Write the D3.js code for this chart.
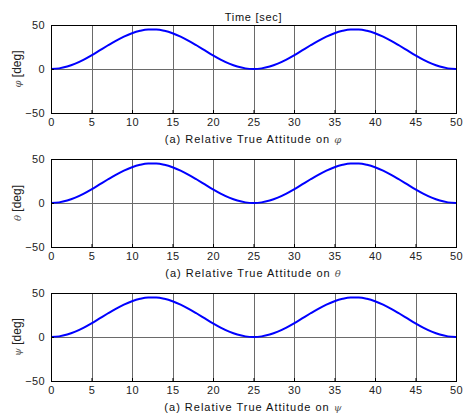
<!DOCTYPE html>
<html>
<head>
<meta charset="utf-8">
<script src="https://cdn.jsdelivr.net/npm/d3@7"></script>
<style>
  body { margin: 0; background: #fff; }
  text { font-family: "Liberation Sans", Arial, sans-serif; }
</style>
</head>
<body>
<script>
// values, one sample per second
var time = [0, 1, 2, 3, 4, 5, 6, 7, 8, 9, 10, 11, 12, 13, 14, 15, 16, 17, 18, 19, 20, 21, 22, 23, 24, 25,
  26, 27, 28, 29, 30, 31, 32, 33, 34, 35, 36, 37, 38, 39, 40, 41, 42, 43, 44, 45, 46, 47, 48, 49, 50];

var phi = [0, 0.7, 2.8, 6.1, 10.4, 15.5, 21.1, 26.7, 32.1, 36.8, 40.7, 43.4, 44.8, 44.8, 43.4, 40.7, 36.8, 32.1, 26.7, 21.1, 15.5, 10.4, 6.1, 2.8, 0.7, 0,
  0.7, 2.8, 6.1, 10.4, 15.5, 21.1, 26.7, 32.1, 36.8, 40.7, 43.4, 44.8, 44.8, 43.4, 40.7, 36.8, 32.1, 26.7, 21.1, 15.5, 10.4, 6.1, 2.8, 0.7, 0];

var theta = [0, 0.7, 2.8, 6.1, 10.4, 15.5, 21.1, 26.7, 32.1, 36.8, 40.7, 43.4, 44.8, 44.8, 43.4, 40.7, 36.8, 32.1, 26.7, 21.1, 15.5, 10.4, 6.1, 2.8, 0.7, 0,
  0.7, 2.8, 6.1, 10.4, 15.5, 21.1, 26.7, 32.1, 36.8, 40.7, 43.4, 44.8, 44.8, 43.4, 40.7, 36.8, 32.1, 26.7, 21.1, 15.5, 10.4, 6.1, 2.8, 0.7, 0];

var psi = [0, 0.7, 2.8, 6.1, 10.4, 15.5, 21.1, 26.7, 32.1, 36.8, 40.7, 43.4, 44.8, 44.8, 43.4, 40.7, 36.8, 32.1, 26.7, 21.1, 15.5, 10.4, 6.1, 2.8, 0.7, 0,
  0.7, 2.8, 6.1, 10.4, 15.5, 21.1, 26.7, 32.1, 36.8, 40.7, 43.4, 44.8, 44.8, 43.4, 40.7, 36.8, 32.1, 26.7, 21.1, 15.5, 10.4, 6.1, 2.8, 0.7, 0];

var xTicks = [0, 5, 10, 15, 20, 25, 30, 35, 40, 45, 50];
var yTicks = [-50, 0, 50];
var symbols = ["\u03C6", "\u03B8", "\u03C8"];
var captions = ["(a) Relative True Attitude on ", "(a) Relative True Attitude on ", "(a) Relative True Attitude on "];
var series = [phi, theta, psi];

var svg = d3.select("body").append("svg").attr("width", 466).attr("height", 414);

var left = 51, width = 405, height = 88;
var tops = [25, 159, 293];

var x = d3.scaleLinear().domain([0, 50]).range([0, width]);
var y = d3.scaleLinear().domain([-50, 50]).range([height, 0]);

svg.append("text")
  .attr("x", left + width / 2)
  .attr("y", 21)
  .attr("text-anchor", "middle")
  .attr("font-size", 11)
  .attr("letter-spacing", 0.7)
  .attr("fill", "#111")
  .text("Time [sec]");

series.forEach(function (vals, k) {
  var g = svg.append("g").attr("transform", "translate(" + left + "," + tops[k] + ")");

  // grid
  g.append("g")
    .attr("transform", "translate(0," + height + ")")
    .call(d3.axisBottom(x).tickValues(xTicks).tickSize(-height).tickFormat(""))
    .call(function (s) {
      s.select(".domain").remove();
      s.selectAll("line").attr("stroke", "#6a6a6a").attr("shape-rendering", "crispEdges");
    });
  g.append("line")
    .attr("x1", 0).attr("x2", width)
    .attr("y1", y(0)).attr("y2", y(0))
    .attr("stroke", "#6a6a6a")
    .attr("shape-rendering", "crispEdges");

  // curve
  var line = d3.line()
    .x(function (d, i) { return x(time[i]); })
    .y(function (d) { return y(d); })
    .curve(d3.curveMonotoneX);
  g.append("path")
    .datum(vals)
    .attr("d", line)
    .attr("fill", "none")
    .attr("stroke", "#0000ff")
    .attr("stroke-width", 2);

  // axes
  var xa = g.append("g")
    .attr("transform", "translate(0," + height + ")")
    .call(d3.axisBottom(x).tickValues(xTicks).tickSizeInner(-3).tickSizeOuter(0).tickPadding(5));
  var ya = g.append("g")
    .call(d3.axisLeft(y).tickValues(yTicks).tickSizeInner(-3).tickSizeOuter(0).tickPadding(6));
  [xa, ya].forEach(function (a) {
    a.selectAll("text").attr("font-size", 11).attr("fill", "#222")
      .attr("letter-spacing", 0.4)
      .attr("font-family", "'Liberation Sans', Arial, sans-serif");
    a.select(".domain").attr("stroke", "#000");
    a.selectAll("line").attr("stroke", "#000");
  });

  g.append("rect")
    .attr("width", width).attr("height", height)
    .attr("fill", "none")
    .attr("stroke", "#000")
    .attr("shape-rendering", "crispEdges");

  // y label
  var yl = g.append("text")
    .attr("transform", "translate(-30," + y(0) + ") rotate(-90)")
    .attr("text-anchor", "middle")
    .attr("font-size", 12)
    .attr("fill", "#222");
  yl.append("tspan").attr("font-family", "'DejaVu Serif', serif").attr("font-style", "italic")
    .attr("font-size", 10).attr("fill", "#555").text(symbols[k]);
  yl.append("tspan").text("  [deg]");

  // caption
  var cap = g.append("text")
    .attr("x", width / 2)
    .attr("y", height + 30)
    .attr("text-anchor", "middle")
    .attr("font-size", 11)
    .attr("letter-spacing", 1)
    .attr("fill", "#111");
  cap.append("tspan").text(captions[k]);
  cap.append("tspan").attr("font-family", "'DejaVu Serif', serif").attr("font-style", "italic")
    .attr("font-size", 10).attr("fill", "#555").text(symbols[k]);
});
</script>
</body>
</html>
